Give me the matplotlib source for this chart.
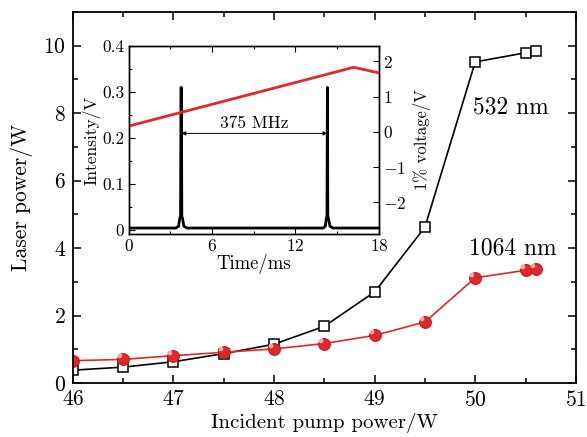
import matplotlib
matplotlib.use("Agg")
import matplotlib.pyplot as plt
from matplotlib.path import Path
from matplotlib.ticker import MultipleLocator

plt.rcParams['font.family'] = 'serif'
plt.rcParams['font.serif'] = ['cmr10', 'DejaVu Serif']
plt.rcParams['mathtext.fontset'] = 'cm'
plt.rcParams['axes.formatter.use_mathtext'] = True

# main curves: laser power vs pump power
pump = [46, 46.5, 47, 47.5, 48, 48.5, 49, 49.5, 50, 50.5, 50.6]
p532 = [0.38, 0.47, 0.63, 0.87, 1.15, 1.68, 2.70, 4.62, 9.52, 9.79, 9.85]
p1064 = [0.66, 0.70, 0.81, 0.91, 1.01, 1.17, 1.41, 1.81, 3.12, 3.34, 3.37]

# inset: F-P scan trace
t_int = [0, 3.4, 3.6, 3.68, 3.74, 3.77, 3.8, 3.83, 3.88, 3.98, 4.2,
         14.0, 14.15, 14.22, 14.27, 14.3, 14.33, 14.38, 14.48, 14.7, 18]
intensity = [0.004, 0.004, 0.008, 0.025, 0.03, 0.31, 0.31, 0.03, 0.025, 0.008, 0.004,
             0.004, 0.008, 0.025, 0.03, 0.31, 0.03, 0.025, 0.008, 0.004, 0.004]
t_volt = [0, 16.2, 18]
voltage = [0.16, 1.83, 1.67]

red = '#e0282a'

fig = plt.figure(figsize=(5.87, 4.37), dpi=100)
ax = fig.add_axes([0.124, 0.1236, 0.857, 0.849])

ax.plot(pump, p532, color='black', lw=1.2, marker='s', ms=6.5,
        mfc='white', mec='black', mew=1.1)
ax.plot(pump, p1064, color=red, lw=1.2, marker='o', ms=8.5,
        mfc=red, mec='#c41515', mew=0.7)
# small shine on the balls (upper left)
shine = Path.circle(center=(-0.3, 0.3), radius=0.2)
ax.plot(pump, p1064, ls='none', marker=shine, ms=8.5, mfc='#f6a8a8', mec='none')

ax.set_xlim(46, 51)
ax.set_ylim(0, 11)
ax.xaxis.set_major_locator(MultipleLocator(1))
ax.xaxis.set_minor_locator(MultipleLocator(0.5))
ax.yaxis.set_major_locator(MultipleLocator(2))
ax.yaxis.set_minor_locator(MultipleLocator(1))
ax.tick_params(which='both', direction='in', top=True, right=True, width=1.1)
ax.tick_params(which='major', length=6, labelsize=15.5, pad=5)
ax.tick_params(which='minor', length=3.5)
for s in ax.spines.values():
    s.set_linewidth(1.3)
ax.set_xlabel('Incident pump power/W', fontsize=15, labelpad=2)
ax.set_ylabel('Laser power/W', fontsize=15.5, labelpad=7)

ax.text(50.35, 8.18, '532 nm', fontsize=17, ha='center', va='center')
ax.text(50.37, 4.0, '1064 nm', fontsize=17, ha='center', va='center')

# inset
ins = fig.add_axes([0.219, 0.4645, 0.4264, 0.430])
ins.plot(t_int, intensity, color='black', lw=2)
ins.set_xlim(0, 18)
ins.set_ylim(-0.009, 0.4)
ins.xaxis.set_major_locator(MultipleLocator(6))
ins.xaxis.set_minor_locator(MultipleLocator(3))
ins.set_yticks([0, 0.1, 0.2, 0.3, 0.4])
ins.set_yticklabels(['0', '0.1', '0.2', '0.3', '0.4'])
ins.yaxis.set_minor_locator(MultipleLocator(0.05))
ins.tick_params(which='both', direction='in', top=True, width=0.8)
ins.tick_params(which='major', length=4, labelsize=12.5, pad=3)
ins.tick_params(which='minor', length=2.5)
ins.set_xlabel('Time/ms', fontsize=13.5, labelpad=0)
ins.set_ylabel('Intensity/V', fontsize=12.5, labelpad=1)
ins.annotate('', xy=(3.8, 0.21), xytext=(14.3, 0.21),
             arrowprops=dict(arrowstyle='<|-|>', color='black', lw=0.7,
                             mutation_scale=6, shrinkA=0, shrinkB=0))
ins.text(9.05, 0.222, '375 MHz', fontsize=12.5, ha='center')

ins2 = ins.twinx()
ins2.plot(t_volt, voltage, color=red, lw=2)
ins2.set_ylim(-2.9, 2.43)
ins2.yaxis.set_major_locator(MultipleLocator(1))
ins2.tick_params(direction='in', length=4, width=0.8, labelsize=12.5, pad=3)
ins2.set_ylabel('1% voltage/V', fontsize=12, labelpad=5)
for a in (ins, ins2):
    for s in a.spines.values():
        s.set_linewidth(1.0)

fig.savefig('out.png', dpi=100)
